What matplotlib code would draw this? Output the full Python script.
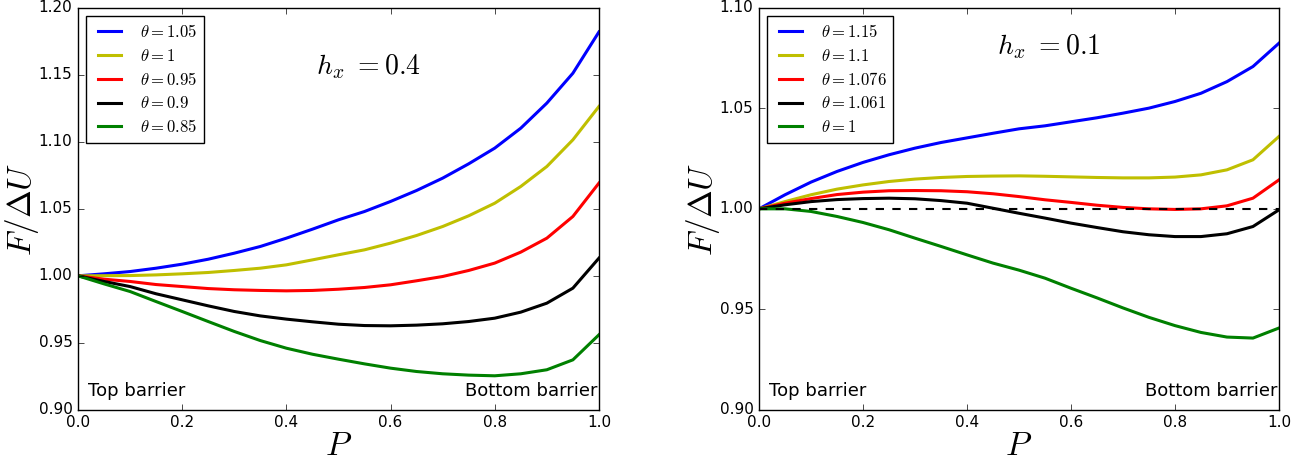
import matplotlib
matplotlib.use("Agg")
import matplotlib.pyplot as plt
from matplotlib.ticker import FormatStrFormatter

plt.style.use("classic")
plt.rcParams["figure.facecolor"] = "white"
plt.rcParams["mathtext.fontset"] = "cm"

# valores de P (mismos para ambos paneles)
P = [0.0, 0.05, 0.1, 0.15, 0.2, 0.25, 0.3, 0.35, 0.4, 0.45, 0.5,
     0.55, 0.6, 0.65, 0.7, 0.75, 0.8, 0.85, 0.9, 0.95, 1.0]

# panel izquierdo, h_x = 0.4
theta_izq = ["1.05", "1", "0.95", "0.9", "0.85"]
F_izq_105 = [1.000, 1.0015, 1.0032, 1.0057, 1.0087, 1.0124, 1.0169, 1.0219, 1.0281, 1.0348, 1.0418,
             1.048, 1.0555, 1.0637, 1.0729, 1.0836, 1.0953, 1.1102, 1.1289, 1.1512, 1.182]
F_izq_1 = [1.000, 1.0001, 1.0002, 1.0007, 1.0015, 1.0025, 1.004, 1.0057, 1.0082, 1.0119, 1.0157,
           1.0194, 1.0244, 1.0301, 1.0368, 1.0448, 1.0542, 1.0667, 1.0816, 1.1015, 1.1264]
F_izq_095 = [1.000, 0.9975, 0.9958, 0.9935, 0.992, 0.9905, 0.9896, 0.9891, 0.9888, 0.9891, 0.990,
             0.9913, 0.9933, 0.9963, 0.9995, 1.004, 1.0095, 1.0177, 1.0281, 1.0443, 1.0692]
F_izq_09 = [1.000, 0.9958, 0.992, 0.9866, 0.9821, 0.9776, 0.9734, 0.9701, 0.9677, 0.9657, 0.9639,
            0.9629, 0.9627, 0.9632, 0.9642, 0.9659, 0.9684, 0.9729, 0.9796, 0.9908, 1.0132]
F_izq_085 = [1.000, 0.994, 0.9883, 0.9808, 0.9734, 0.9659, 0.9585, 0.9517, 0.946, 0.9415, 0.9378,
             0.9343, 0.9311, 0.9286, 0.9269, 0.9259, 0.9254, 0.9269, 0.9299, 0.9373, 0.956]

# panel derecho, h_x = 0.1
theta_der = ["1.15", "1.1", "1.076", "1.061", "1"]
F_der_115 = [1.000, 1.007, 1.0133, 1.0186, 1.0231, 1.0269, 1.0302, 1.033, 1.0353, 1.0376, 1.0398,
             1.0413, 1.0433, 1.0453, 1.0476, 1.0501, 1.0534, 1.0575, 1.0633, 1.0708, 1.0824]
F_der_11 = [1.000, 1.0036, 1.007, 1.0098, 1.0119, 1.0136, 1.0148, 1.0156, 1.0161, 1.0163, 1.0164,
            1.0162, 1.0159, 1.0156, 1.0154, 1.0154, 1.0158, 1.0169, 1.0194, 1.0244, 1.036]
F_der_1076 = [1.000, 1.0028, 1.0051, 1.0071, 1.0083, 1.009, 1.0091, 1.009, 1.0085, 1.0075, 1.0061,
              1.0045, 1.0032, 1.0018, 1.0007, 1.0, 0.9997, 1.0, 1.0015, 1.0053, 1.0144]
F_der_1061 = [1.000, 1.002, 1.0036, 1.0046, 1.0051, 1.0053, 1.005, 1.0041, 1.0028, 1.0003, 0.9978,
              0.9954, 0.9929, 0.9907, 0.9886, 0.9871, 0.9862, 0.9862, 0.9876, 0.9912, 0.9995]
F_der_1 = [1.000, 1.0, 0.9987, 0.9962, 0.9932, 0.9896, 0.9854, 0.9813, 0.9771, 0.973, 0.9695,
           0.9655, 0.9605, 0.9557, 0.9507, 0.946, 0.9419, 0.9385, 0.9362, 0.9357, 0.9407]

F_izq = [F_izq_105, F_izq_1, F_izq_095, F_izq_09, F_izq_085]
F_der = [F_der_115, F_der_11, F_der_1076, F_der_1061, F_der_1]

colores = ["b", "y", "r", "k", "g"]

fig = plt.figure(figsize=(13.08, 4.61), dpi=100)
ax1 = fig.add_axes([0.0596, 0.111, 0.3983, 0.872])
ax2 = fig.add_axes([0.5803, 0.111, 0.3975, 0.872])

for ax, F, thetas, ylim, hx, ytxt in [
    (ax1, F_izq, theta_izq, (0.90, 1.20), "0.4", 0.853),
    (ax2, F_der, theta_der, (0.90, 1.10), "0.1", 0.903),
]:
    for y, c, t in zip(F, colores, thetas):
        ax.plot(P, y, color=c, lw=2.2, label=r"$\theta=" + t + "$")
    ax.set_xlim(0, 1)
    ax.set_ylim(*ylim)
    ax.set_yticks([v / 100 for v in range(int(round(ylim[0] * 100)), int(round(ylim[1] * 100)) + 1, 5)])
    ax.yaxis.set_major_formatter(FormatStrFormatter("%.2f"))
    ax.xaxis.set_major_formatter(FormatStrFormatter("%.1f"))
    ax.tick_params(labelsize=11)
    ax.set_xlabel(r"$P$", fontsize=24, labelpad=-1)
    ax.set_ylabel(r"$F/\Delta U$", fontsize=24, labelpad=-2)
    ax.legend(loc="upper left", fontsize=12, handlelength=2, labelspacing=0.35,
              borderpad=0.4, handletextpad=0.8)
    ax.text(0.557, ytxt, r"$h_x\ =" + hx + "$", transform=ax.transAxes,
            fontsize=20, ha="center", va="center")
    ax.text(0.02, 0.035, "Top barrier", transform=ax.transAxes, fontsize=13)
    ax.text(0.998, 0.035, "Bottom barrier", transform=ax.transAxes, fontsize=13, ha="right")

ax2.axhline(1.0, color="k", ls="--", lw=1.5)

fig.savefig("out.png", dpi=100)
